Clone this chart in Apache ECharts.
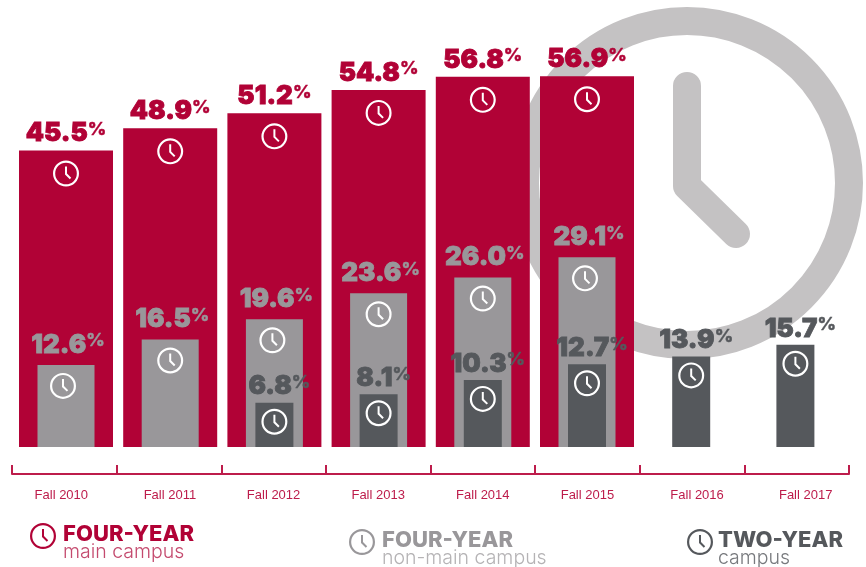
<!DOCTYPE html>
<html lang="en">
<head>
    <meta charset="UTF-8">
    <title>Campus share by fall term</title>
    <script src="https://cdn.jsdelivr.net/npm/echarts@6/dist/echarts.min.js"></script>
    <style>
        html, body { margin: 0; padding: 0; background: #fff; }
    </style>
</head>
<body>
    <div id="main" style="width:866px;height:567px;"></div>
    <script>
    var categories = ['Fall 2010', 'Fall 2011', 'Fall 2012', 'Fall 2013', 'Fall 2014', 'Fall 2015', 'Fall 2016', 'Fall 2017'];
    var fourYearMain = [45.5, 48.9, 51.2, 54.8, 56.8, 56.9, null, null];
    var fourYearNonMain = [12.6, 16.5, 19.6, 23.6, 26.0, 29.1, null, null];
    var twoYear = [null, null, 6.8, 8.1, 10.3, 12.7, 13.9, 15.7];

    var RED = '#b10236', GRAY = '#99979a', DARK = '#55585c', RING = '#c4c2c3', AXIS_RED = '#bd1c4b';
    var FONT = 'Inter, "Noto Sans", sans-serif';

    // small clock, ring and hands in one path
    var CLOCK = 'path://M13 0a13 13 0 1 0 0 26a13 13 0 1 0 0-26z' +
        'M13 2.2a10.8 10.8 0 1 1 0 21.6a10.8 10.8 0 1 1 0-21.6z' +
        'M12 6h2v7.1l4.2 4.2-1.4 1.4L12 14z';

    // the printed labels are not quite centred on the ticks
    var labelShift = [-3, 1, 0, 0, 0, 0, 5, 9];
    var grayClockShift = [-3, 0, -2, 0, 0, -2, 0, 0];

    function hiddenX() {
        return { type: 'category', data: categories, show: false, gridIndex: 0 };
    }

    function pctLabel(color, distance, dx) {
        return {
            show: true,
            position: 'top',
            distance: distance,
            offset: [dx, 0],
            formatter: function (p) {
                return '{n|' + p.value.toFixed(1) + '}{p|%}';
            },
            rich: {
                n: { fontFamily: FONT, fontWeight: 900, fontSize: 26, color: color, lineHeight: 26, textBorderColor: color, textBorderWidth: 0.8 },
                p: { fontFamily: FONT, fontWeight: 800, fontSize: 18, color: color, lineHeight: 26, padding: [0, 0, 8, 0], textBorderColor: color, textBorderWidth: 0.4 }
            }
        };
    }

    function bars(name, values, axis, width, color, label) {
        return {
            name: name, type: 'bar', data: values, xAxisIndex: axis, yAxisIndex: 0,
            barWidth: width, itemStyle: { color: color }, label: label, z: 2 + axis
        };
    }

    function clocks(name, values, axis, dy, shifts) {
        var pts = [];
        values.forEach(function (v, i) {
            if (v !== null) pts.push({ value: [i, v], symbolOffset: [shifts ? shifts[i] : 0, dy] });
        });
        return {
            name: name + ' clock', type: 'scatter', data: pts, xAxisIndex: axis, yAxisIndex: 0,
            symbol: CLOCK, symbolSize: 26, silent: true,
            itemStyle: { color: '#fff', opacity: 1 }, z: 6
        };
    }

    // uneven line heights keep the icon level with the title, not the text block
    function legendAt(name, left, top, pad, titleColor, subColor) {
        return {
            data: [{ name: name, icon: CLOCK }],
            left: left, top: top, padding: 0, selectedMode: false,
            itemWidth: 26, itemHeight: 26,
            formatter: function (n) {
                var i = n.indexOf(' ');
                return '{t|' + n.slice(0, i) + '}\n{s|' + n.slice(i + 1) + '}';
            },
            textStyle: {
                rich: {
                    t: { fontFamily: FONT, fontWeight: 800, fontSize: 22, lineHeight: 32, color: titleColor, padding: [0, 0, 0, pad] },
                    s: { fontFamily: FONT, fontWeight: 300, fontSize: 19.5, lineHeight: 4, color: subColor, padding: [0, 0, 0, pad] }
                }
            }
        };
    }

    var axisRich = {};
    labelShift.forEach(function (s, i) {
        axisRich['l' + i] = {
            fontFamily: '"Liberation Sans", sans-serif',
            fontSize: 13, color: AXIS_RED,
            padding: s > 0 ? [0, 0, 0, 2 * s] : [0, -2 * s, 0, 0]
        };
    });

    var names = ['FOUR-YEAR main campus', 'FOUR-YEAR non-main campus', 'TWO-YEAR campus'];

    var myChart = echarts.init(document.getElementById('main'), null, { renderer: 'canvas' });

    var option = {
        animation: false,
        backgroundColor: '#fff',
        grid: [
            { left: 13.9, width: 833.6, top: 56, height: 391 },
            { left: 12, width: 837, top: 464, height: 10 }
        ],
        xAxis: [
            hiddenX(), hiddenX(), hiddenX(),
            {
                type: 'category', data: categories, gridIndex: 1,
                axisLine: { show: true, lineStyle: { color: AXIS_RED, width: 2 } },
                axisTick: { show: true, interval: 0, inside: true, length: 9, lineStyle: { color: AXIS_RED, width: 2 } },
                axisLabel: {
                    margin: 15,
                    interval: 0,
                    formatter: function (v, i) {
                        return '{l' + i + '|' + v + '}';
                    },
                    rich: axisRich
                }
            }
        ],
        yAxis: [
            { type: 'value', min: 0, max: 60, show: false, gridIndex: 0 },
            { type: 'value', min: 0, max: 1, show: false, gridIndex: 1 }
        ],
        legend: [
            legendAt(names[0], 30, 523, 2, RED, '#c44a6e'),
            legendAt(names[1], 349, 529, 2, GRAY, '#b5b3b5'),
            legendAt(names[2], 687, 529, 0, DARK, '#77797d')
        ],
        series: [
            bars(names[0], fourYearMain, 0, 94, RED, pctLabel(RED, 4, 0)),
            bars(names[1], fourYearNonMain, 1, 57, GRAY, pctLabel(GRAY, 7, 2)),
            bars(names[2], twoYear, 2, 38, DARK, pctLabel(DARK, 3, 5)),
            clocks(names[0], fourYearMain, 0, 23),
            clocks(names[1], fourYearNonMain, 1, 21, grayClockShift),
            clocks(names[2], twoYear, 2, 19)
        ],
        graphic: [
            {
                type: 'circle', z: -1, silent: true,
                shape: { cx: 687, cy: 183, r: 162 },
                style: { fill: 'none', stroke: RING, lineWidth: 28 }
            },
            {
                type: 'polyline', z: -1, silent: true,
                shape: { points: [[687, 86], [687, 186], [736, 234]] },
                style: { fill: 'none', stroke: RING, lineWidth: 28, lineCap: 'round', lineJoin: 'round' }
            }
        ]
    };

    myChart.setOption(option);
    </script>
</body>
</html>
